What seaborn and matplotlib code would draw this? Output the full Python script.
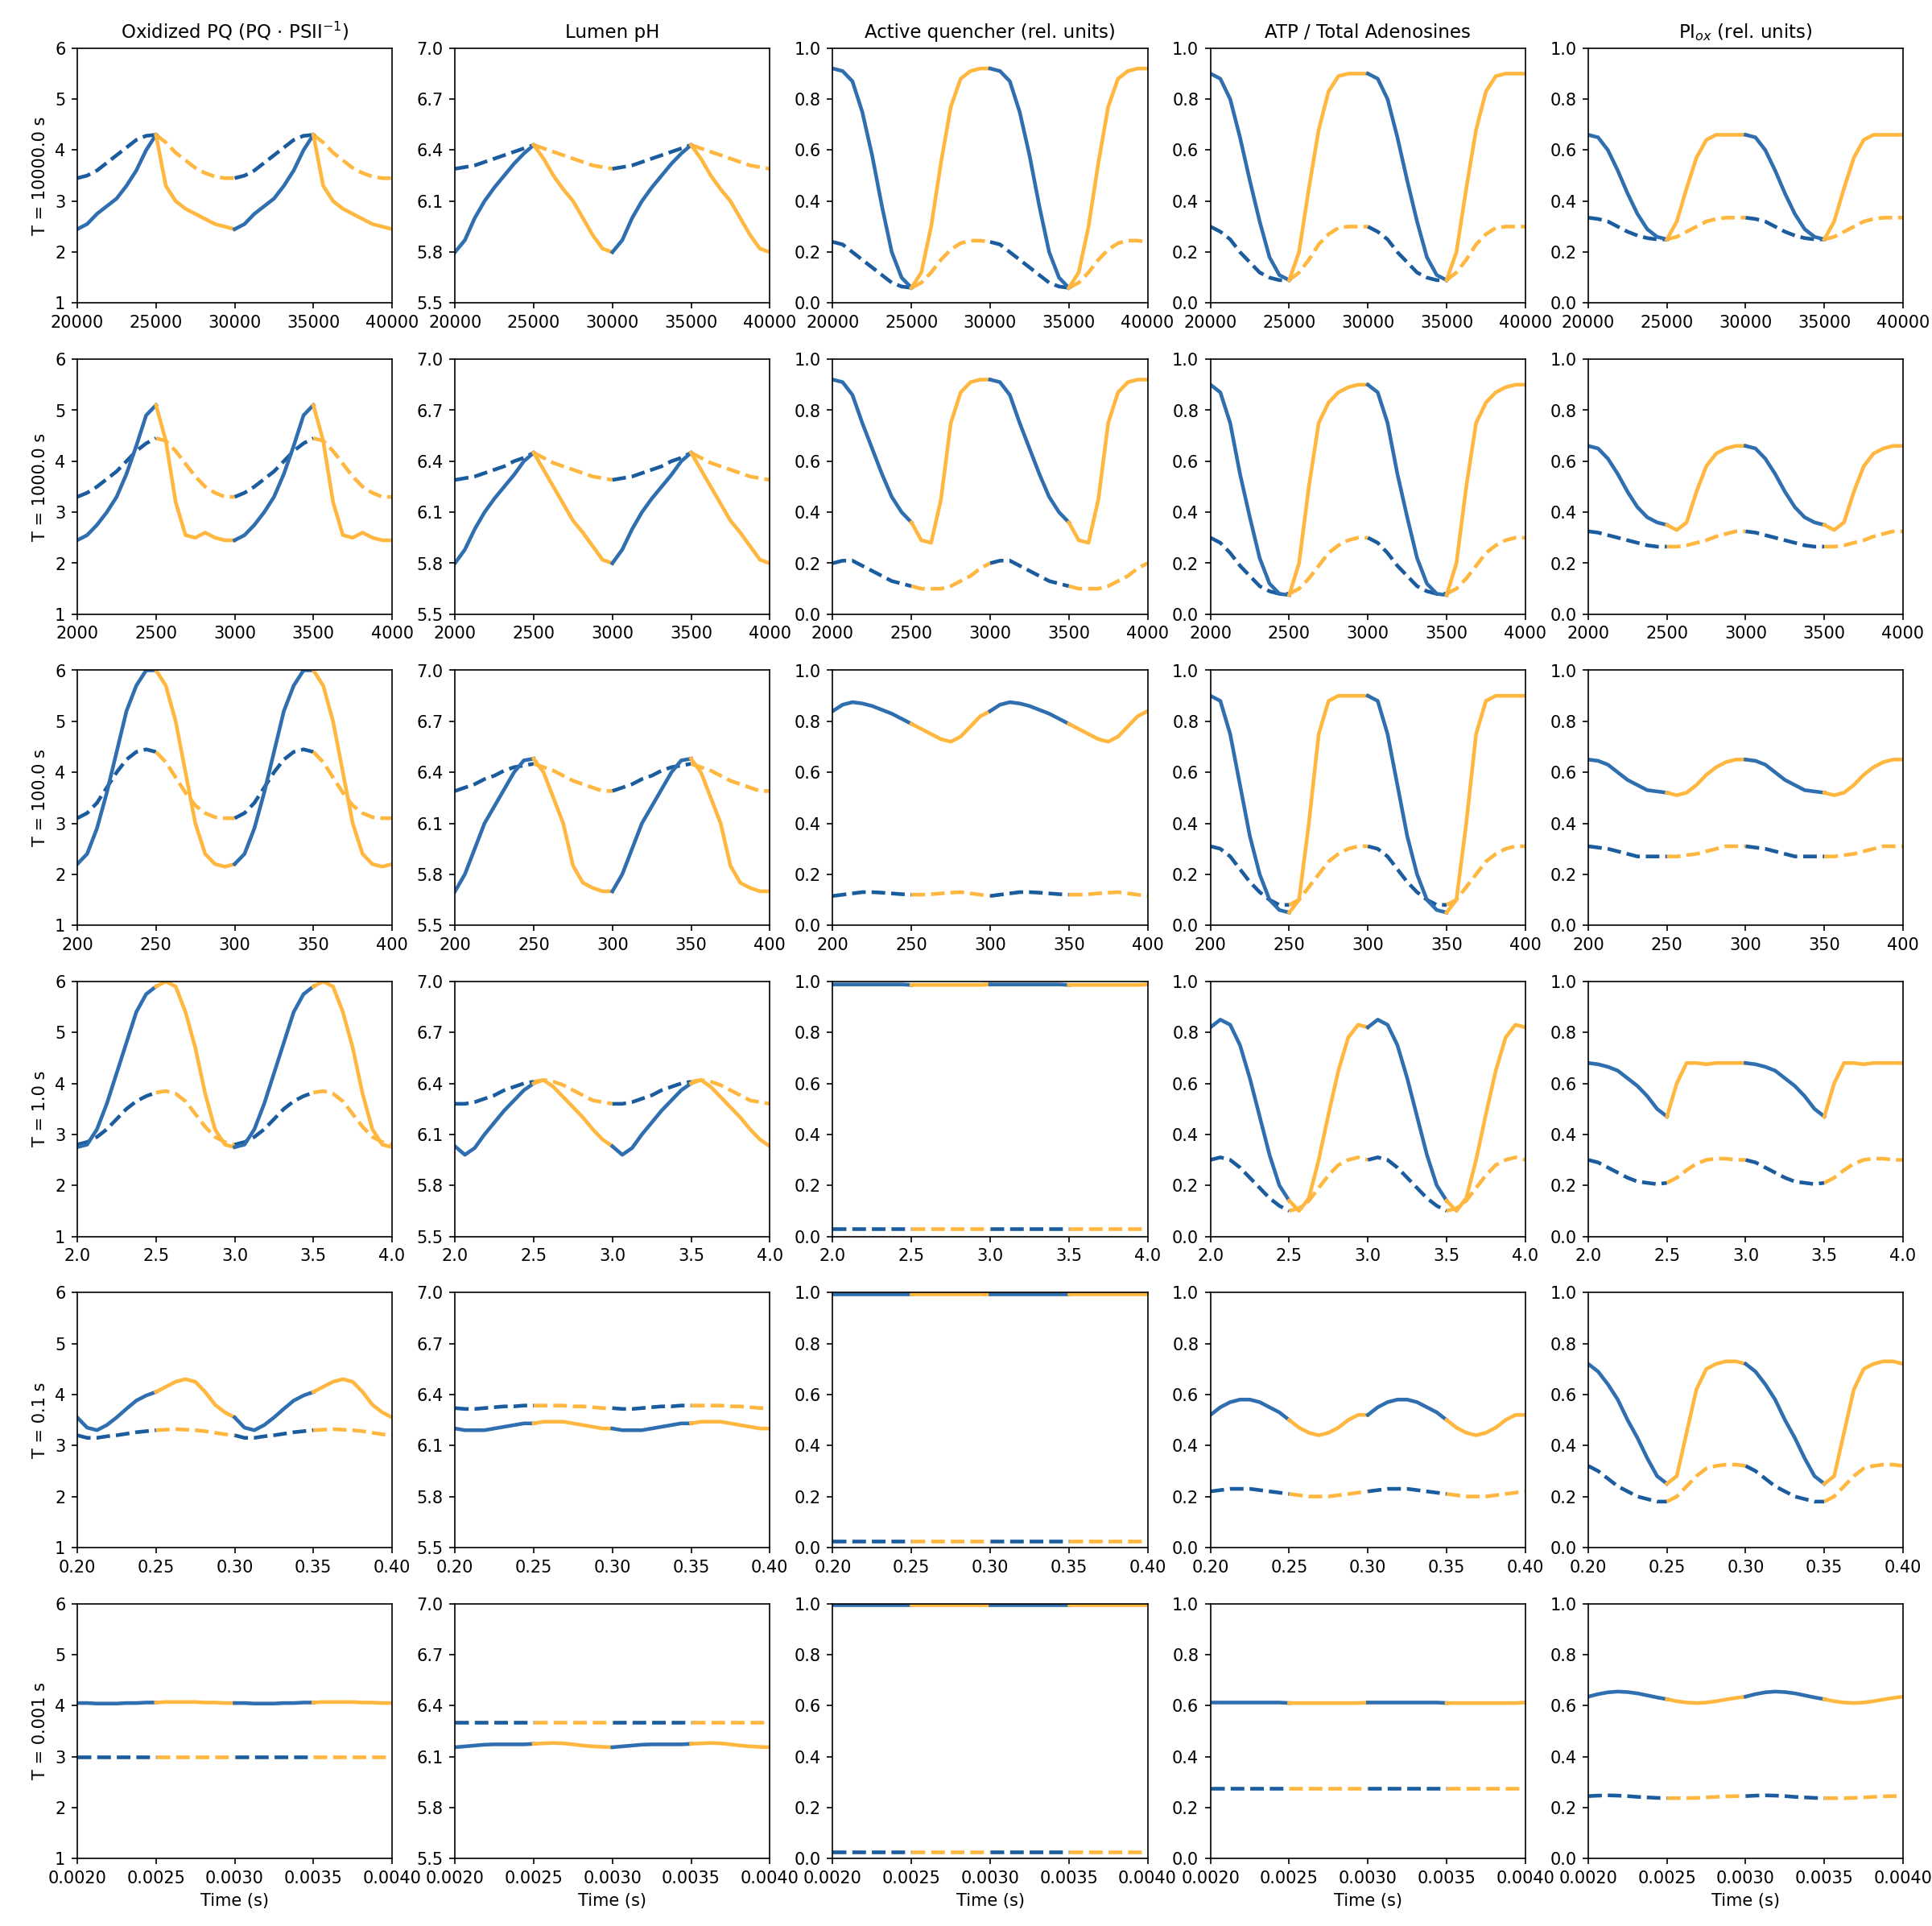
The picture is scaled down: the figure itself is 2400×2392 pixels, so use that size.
import numpy as np
import matplotlib
matplotlib.use("Agg")
import matplotlib.pyplot as plt
import seaborn as sns

# one period of each curve, sampled at phase k/16 (k=0..15); blue = light half, orange = dark half
periods = [10000.0, 1000.0, 100.0, 1.0, 0.1, 0.001]
starts = [20000, 2000, 200, 2.0, 0.2, 0.002]
row_labels = ["T = 10000.0 s", "T = 1000.0 s", "T = 100.0 s", "T = 1.0 s", "T = 0.1 s", "T = 0.001 s"]
col_titles = ["Oxidized PQ (PQ $\\cdot$ PSII$^{-1}$)", "Lumen pH", "Active quencher (rel. units)",
              "ATP / Total Adenosines", "PI$_{ox}$ (rel. units)"]

# Row 1 (T=10000)
r1_pq_s = [2.45,2.55,2.75,2.9,3.05,3.3,3.6,4.0,4.3,3.3,3.0,2.85,2.75,2.65,2.55,2.5]
r1_pq_d = [3.45,3.5,3.6,3.75,3.9,4.05,4.2,4.28,4.3,4.15,3.95,3.8,3.65,3.55,3.48,3.45]
r1_ph_s = [5.8,5.87,6.0,6.1,6.18,6.25,6.32,6.38,6.43,6.35,6.25,6.17,6.1,6.0,5.9,5.82]
r1_ph_d = [6.29,6.3,6.31,6.33,6.35,6.37,6.39,6.41,6.43,6.41,6.39,6.37,6.35,6.33,6.31,6.3]
r1_q_s = [0.92,0.91,0.87,0.75,0.58,0.38,0.2,0.1,0.06,0.12,0.3,0.55,0.77,0.88,0.91,0.92]
r1_q_d = [0.24,0.23,0.2,0.17,0.14,0.11,0.08,0.065,0.06,0.08,0.12,0.17,0.21,0.235,0.245,0.245]
r1_atp_s = [0.9,0.88,0.8,0.65,0.48,0.32,0.18,0.11,0.09,0.2,0.45,0.68,0.83,0.89,0.9,0.9]
r1_atp_d = [0.3,0.28,0.25,0.2,0.16,0.12,0.1,0.09,0.09,0.12,0.17,0.23,0.27,0.295,0.3,0.3]
r1_pi_s = [0.66,0.65,0.6,0.52,0.43,0.35,0.29,0.26,0.25,0.32,0.45,0.57,0.64,0.66,0.66,0.66]
r1_pi_d = [0.335,0.33,0.32,0.3,0.28,0.265,0.255,0.25,0.25,0.26,0.28,0.3,0.32,0.33,0.335,0.335]
# Row 2 (T=1000)
r2_pq_s = [2.45,2.55,2.75,3.0,3.3,3.75,4.3,4.9,5.1,4.4,3.2,2.55,2.5,2.6,2.5,2.45]
r2_pq_d = [3.3,3.38,3.5,3.65,3.8,4.0,4.2,4.35,4.45,4.4,4.2,3.95,3.7,3.5,3.38,3.3]
r2_ph_s = [5.8,5.88,6.0,6.1,6.18,6.25,6.32,6.4,6.45,6.35,6.25,6.15,6.05,5.98,5.9,5.82]
r2_ph_d = [6.29,6.3,6.31,6.33,6.35,6.37,6.4,6.42,6.45,6.42,6.39,6.37,6.35,6.33,6.31,6.3]
r2_q_s = [0.92,0.91,0.86,0.75,0.65,0.55,0.46,0.4,0.36,0.29,0.28,0.45,0.75,0.87,0.91,0.92]
r2_q_d = [0.2,0.21,0.21,0.19,0.17,0.15,0.13,0.12,0.11,0.1,0.1,0.1,0.11,0.13,0.15,0.18]
r2_atp_s = [0.9,0.87,0.75,0.55,0.38,0.22,0.12,0.08,0.075,0.2,0.5,0.75,0.83,0.87,0.89,0.9]
r2_atp_d = [0.3,0.28,0.24,0.19,0.15,0.11,0.09,0.08,0.08,0.1,0.14,0.19,0.24,0.27,0.29,0.3]
r2_pi_s = [0.66,0.65,0.61,0.55,0.48,0.42,0.38,0.36,0.35,0.33,0.36,0.48,0.58,0.63,0.65,0.66]
r2_pi_d = [0.325,0.32,0.31,0.3,0.29,0.28,0.27,0.265,0.265,0.265,0.27,0.28,0.29,0.305,0.315,0.325]
# Row 3 (T=100)
r3_pq_s = [2.2,2.4,2.9,3.6,4.4,5.2,5.7,6.0,6.0,5.7,5.0,4.0,3.0,2.4,2.2,2.15]
r3_pq_d = [3.1,3.2,3.4,3.7,4.0,4.25,4.4,4.45,4.4,4.2,3.9,3.6,3.35,3.2,3.12,3.1]
r3_ph_s = [5.7,5.8,5.95,6.1,6.2,6.3,6.4,6.47,6.48,6.4,6.25,6.1,5.85,5.75,5.72,5.7]
r3_ph_d = [6.29,6.31,6.33,6.36,6.38,6.41,6.43,6.44,6.45,6.43,6.41,6.38,6.35,6.33,6.31,6.29]
r3_q_s = [0.84,0.865,0.875,0.87,0.86,0.845,0.83,0.81,0.79,0.77,0.75,0.73,0.72,0.74,0.78,0.82]
r3_q_d = [0.115,0.12,0.125,0.13,0.13,0.128,0.125,0.122,0.12,0.12,0.122,0.125,0.128,0.13,0.125,0.12]
r3_atp_s = [0.9,0.88,0.75,0.55,0.35,0.2,0.1,0.06,0.05,0.1,0.4,0.75,0.88,0.9,0.9,0.9]
r3_atp_d = [0.31,0.3,0.27,0.22,0.17,0.13,0.1,0.08,0.08,0.1,0.15,0.2,0.25,0.28,0.3,0.31]
r3_pi_s = [0.65,0.645,0.63,0.6,0.57,0.55,0.53,0.525,0.52,0.51,0.52,0.55,0.59,0.62,0.64,0.65]
r3_pi_d = [0.31,0.305,0.3,0.29,0.28,0.27,0.27,0.27,0.27,0.27,0.275,0.28,0.29,0.3,0.31,0.31]
# Row 4 (T=1)
r4_pq_s = [2.75,2.8,3.1,3.6,4.2,4.8,5.4,5.75,5.9,6.0,5.9,5.4,4.7,3.8,3.1,2.8]
r4_pq_d = [2.8,2.85,2.95,3.1,3.3,3.5,3.65,3.75,3.82,3.85,3.8,3.65,3.4,3.15,2.95,2.85]
r4_ph_s = [6.03,5.98,6.02,6.1,6.17,6.24,6.3,6.36,6.4,6.42,6.38,6.32,6.26,6.2,6.13,6.07]
r4_ph_d = [6.28,6.28,6.29,6.31,6.33,6.36,6.38,6.4,6.41,6.42,6.41,6.39,6.36,6.33,6.3,6.29]
r4_q_s = [0.988]*8 + [0.986]*8
r4_q_d = [0.03]*16
r4_atp_s = [0.82,0.85,0.83,0.75,0.62,0.47,0.32,0.2,0.14,0.1,0.15,0.3,0.48,0.65,0.78,0.83]
r4_atp_d = [0.3,0.31,0.3,0.27,0.23,0.19,0.15,0.12,0.1,0.11,0.14,0.19,0.24,0.28,0.3,0.31]
r4_pi_s = [0.68,0.675,0.665,0.65,0.62,0.59,0.55,0.5,0.47,0.6,0.68,0.68,0.675,0.68,0.68,0.68]
r4_pi_d = [0.3,0.29,0.27,0.25,0.23,0.215,0.21,0.205,0.21,0.23,0.26,0.285,0.3,0.305,0.305,0.3]
# Row 5 (T=0.1)
r5_pq_s = [3.55,3.35,3.3,3.4,3.55,3.72,3.88,3.98,4.05,4.15,4.25,4.3,4.25,4.05,3.8,3.65]
r5_pq_d = [3.2,3.15,3.15,3.18,3.2,3.23,3.26,3.28,3.3,3.31,3.32,3.31,3.3,3.28,3.25,3.22]
r5_ph_s = [6.2,6.19,6.19,6.19,6.2,6.21,6.22,6.23,6.23,6.24,6.24,6.24,6.23,6.22,6.21,6.2]
r5_ph_d = [6.32,6.315,6.315,6.32,6.325,6.33,6.33,6.335,6.335,6.335,6.335,6.335,6.33,6.33,6.325,6.32]
r5_q_s = [0.995]*16
r5_q_d = [0.025]*16
r5_atp_s = [0.52,0.55,0.57,0.58,0.58,0.57,0.55,0.53,0.5,0.47,0.45,0.44,0.45,0.47,0.5,0.52]
r5_atp_d = [0.22,0.225,0.23,0.23,0.23,0.225,0.22,0.215,0.21,0.205,0.2,0.2,0.2,0.205,0.21,0.215]
r5_pi_s = [0.72,0.69,0.64,0.58,0.5,0.43,0.35,0.28,0.25,0.28,0.45,0.62,0.7,0.72,0.73,0.73]
r5_pi_d = [0.32,0.3,0.27,0.24,0.22,0.2,0.19,0.18,0.18,0.2,0.24,0.28,0.31,0.32,0.325,0.325]
# Row 6 (T=0.001)
r6_pq_s = [4.05,4.05,4.04,4.04,4.04,4.05,4.05,4.06,4.06,4.07,4.07,4.07,4.07,4.06,4.06,4.05]
r6_pq_d = [3.0]*16
r6_ph_s = [6.155,6.16,6.165,6.17,6.172,6.172,6.172,6.172,6.175,6.178,6.18,6.178,6.172,6.165,6.16,6.157]
r6_ph_d = [6.3]*16
r6_q_s = [0.995]*16
r6_q_d = [0.025]*16
r6_atp_s = [0.612]*8 + [0.61]*8
r6_atp_d = [0.275]*16
r6_pi_s = [0.635,0.645,0.652,0.655,0.653,0.648,0.64,0.632,0.625,0.617,0.612,0.61,0.612,0.617,0.624,0.63]
r6_pi_d = [0.245,0.247,0.248,0.247,0.245,0.242,0.24,0.238,0.237,0.237,0.237,0.238,0.24,0.242,0.244,0.245]

rows = [
    [(r1_pq_s, r1_pq_d), (r1_ph_s, r1_ph_d), (r1_q_s, r1_q_d), (r1_atp_s, r1_atp_d), (r1_pi_s, r1_pi_d)],
    [(r2_pq_s, r2_pq_d), (r2_ph_s, r2_ph_d), (r2_q_s, r2_q_d), (r2_atp_s, r2_atp_d), (r2_pi_s, r2_pi_d)],
    [(r3_pq_s, r3_pq_d), (r3_ph_s, r3_ph_d), (r3_q_s, r3_q_d), (r3_atp_s, r3_atp_d), (r3_pi_s, r3_pi_d)],
    [(r4_pq_s, r4_pq_d), (r4_ph_s, r4_ph_d), (r4_q_s, r4_q_d), (r4_atp_s, r4_atp_d), (r4_pi_s, r4_pi_d)],
    [(r5_pq_s, r5_pq_d), (r5_ph_s, r5_ph_d), (r5_q_s, r5_q_d), (r5_atp_s, r5_atp_d), (r5_pi_s, r5_pi_d)],
    [(r6_pq_s, r6_pq_d), (r6_ph_s, r6_ph_d), (r6_q_s, r6_q_d), (r6_atp_s, r6_atp_d), (r6_pi_s, r6_pi_d)],
]

ylims = [(1, 6), (5.5, 7.0), (0, 1), (0, 1), (0, 1)]
yticks = [np.arange(1, 6.01, 1), [5.5, 5.8, 6.1, 6.4, 6.7, 7.0], np.arange(0, 1.01, 0.2),
          np.arange(0, 1.01, 0.2), np.arange(0, 1.01, 0.2)]

BLUE_S, BLUE_D, ORANGE = "#2f6eaf", "#1b5c9e", "#ffb740"

plt.rcParams["font.family"] = ["DejaVu Sans"]
fig, axes = plt.subplots(6, 5, figsize=(16, 15.947), dpi=150)
phase = np.arange(17) / 16.0

for r in range(6):
    P, x0 = periods[r], starts[r]
    for c in range(5):
        ax = axes[r, c]
        for vals, ls, bcol in [(rows[r][c][1], "--", BLUE_D), (rows[r][c][0], "-", BLUE_S)]:
            v = np.array(list(vals) + [vals[0]])
            for k in range(2):
                t = x0 + (k + phase) * P
                sns.lineplot(x=t[:9], y=v[:9], ax=ax, color=bcol, linestyle=ls, lw=2.2,
                             sort=False, estimator=None)
                sns.lineplot(x=t[8:], y=v[8:], ax=ax, color=ORANGE, linestyle=ls, lw=2.2,
                             sort=False, estimator=None)
        ax.set_xlim(x0, x0 + 2 * P)
        ax.set_xticks(x0 + np.arange(5) * P / 2)
        ax.set_ylim(*ylims[c])
        ax.set_yticks(yticks[c])
        if c == 1:
            ax.set_yticklabels([f"{t:.1f}" for t in yticks[c]])
        if r == 0:
            ax.set_title(col_titles[c], fontsize=11)
        if c == 0:
            ax.set_ylabel(row_labels[r], fontsize=10)
        if r == 5:
            ax.set_xlabel("Time (s)", fontsize=10)
        ax.tick_params(labelsize=10)

fig.subplots_adjust(left=0.04, right=0.985, top=0.975, bottom=0.035, wspace=0.2, hspace=0.22)
fig.savefig("out.png", dpi=150)
